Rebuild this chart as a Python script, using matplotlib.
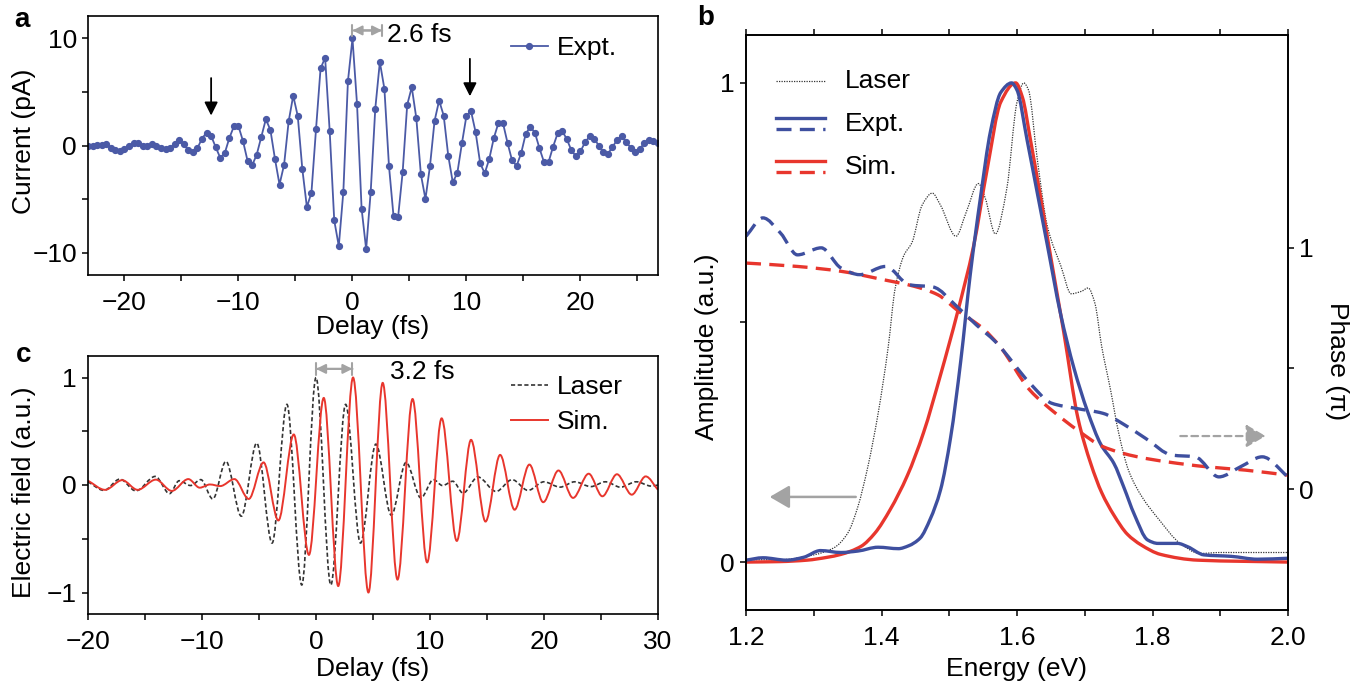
import numpy as np
import matplotlib
matplotlib.use("Agg")
import matplotlib.pyplot as plt
from matplotlib.path import Path
from matplotlib.patches import PathPatch
from matplotlib.lines import Line2D
from matplotlib.ticker import MultipleLocator, FixedLocator, FormatStrFormatter

plt.rcParams["font.family"] = ["Liberation Sans", "DejaVu Sans"]
plt.rcParams["font.size"] = 19
plt.rcParams["axes.linewidth"] = 1.2
for ax_name in ("xtick", "ytick"):
    plt.rcParams[ax_name + ".direction"] = "out"
    plt.rcParams[ax_name + ".major.size"] = 4.5
    plt.rcParams[ax_name + ".minor.size"] = 4.5
    plt.rcParams[ax_name + ".major.width"] = 1.1
    plt.rcParams[ax_name + ".minor.width"] = 1.1
plt.rcParams["xtick.major.pad"] = 7
plt.rcParams["ytick.major.pad"] = 3.5

# ---- panel a : measured current, one point every 0.4 fs from -23.2 fs
delay_a_start = -23.2
delay_a_step = 0.4
current_a = [
    0.0, -0.05, 0.05, 0.05, 0.1, -0.2, -0.45, -0.55, -0.35, 0.0,
    0.2, 0.2, 0.0, -0.05, 0.1, -0.05, -0.2, -0.35, -0.2, 0.1,
    0.5, 0.1, -0.4, -0.6, -0.25, 0.65, 1.2, 0.9, -0.15, -1.15,
    -0.7, 0.7, 1.8, 1.8, 0.4, -1.45, -1.85, -0.85, 0.8, 2.45,
    1.45, -1.25, -3.65, -1.8, 2.25, 4.65, 2.75, -2.2, -5.75, -4.4,
    1.5, 7.2, 8.2, 1.35, -7.0, -9.4, -4.3, 6.0, 10.0, 3.85,
    -5.9, -9.7, -4.3, 3.45, 7.8, 5.3, -1.9, -6.6, -6.7, -2.5,
    3.8, 5.45, 2.55, -2.7, -5.0, -1.9, 2.3, 4.2, 2.8, -0.95,
    -3.45, -2.55, 0.2, 2.8, 3.2, 1.25, -1.65, -2.6, -1.25, 0.7,
    2.1, 2.1, 0.25, -1.4, -1.9, -0.7, 1.1, 1.75, 1.2, -0.25,
    -1.55, -1.55, -0.1, 1.15, 1.35, 0.6, -0.45, -1.0, -0.55, 0.3,
    0.85, 0.65, 0.0, -0.6, -0.8, -0.15, 0.5, 0.85, 0.35, -0.2,
    -0.6, -0.3, 0.2, 0.55, 0.45, 0.2,
]
delay_a = delay_a_start + delay_a_step * np.arange(len(current_a))

# ---- panel c : electric field, turning points of each trace
laser_t = [-20.0, -18.6, -17.2, -15.8, -14.1, -12.85, -12.0, -11.0, -10.1, -9.05,
           -7.9, -6.55, -5.2, -3.85, -2.55, -1.25, 0.0, 1.3, 2.6, 3.9,
           5.25, 6.6, 7.9, 9.2, 10.3, 11.1, 12.0, 12.9, 14.2, 15.8,
           17.2, 18.6, 20.0, 21.4, 22.7, 24.1, 25.4, 26.7, 28.1, 29.4, 30.0]
laser_e = [0.03, -0.05, 0.055, -0.055, 0.08, -0.08, 0.04, -0.005, 0.05, -0.13,
           0.22, -0.29, 0.39, -0.54, 0.75, -0.93, 1.0, -0.93, 0.75, -0.54,
           0.38, -0.28, 0.21, -0.12, 0.05, -0.005, 0.035, -0.075, 0.075, -0.06,
           0.05, -0.05, 0.03, -0.02, 0.03, -0.015, 0.03, -0.02, 0.03, -0.01, 0.0]
sim_t = [-20.0, -18.5, -17.0, -15.65, -14.05, -12.65, -11.2, -10.2, -9.3, -8.4,
         -7.15, -5.9, -4.6, -3.3, -1.95, -0.62, 0.68, 1.95, 3.25, 4.6,
         5.85, 7.15, 8.47, 9.75, 11.02, 12.35, 13.6, 14.87, 16.15, 17.42,
         18.72, 19.93, 21.27, 22.55, 23.92, 25.12, 26.4, 27.7, 28.92, 30.0]
sim_e = [0.04, -0.045, 0.045, -0.045, 0.05, -0.055, 0.055, -0.025, 0.005, -0.01,
         0.055, -0.13, 0.21, -0.33, 0.47, -0.65, 0.81, -0.94, 1.0, -1.0,
         0.95, -0.88, 0.8, -0.72, 0.62, -0.52, 0.42, -0.34, 0.28, -0.23,
         0.19, -0.16, 0.135, -0.12, 0.105, -0.105, 0.1, -0.09, 0.08, -0.045]

# ---- panel b : spectral amplitude and phase
laser_E = [1.20, 1.25, 1.30, 1.33, 1.35, 1.365, 1.38, 1.395, 1.41, 1.42,
           1.433, 1.445, 1.46, 1.475, 1.487, 1.51, 1.525, 1.543, 1.553, 1.568,
           1.585, 1.60, 1.61, 1.617, 1.63, 1.645, 1.665, 1.68, 1.695, 1.705,
           1.715, 1.725, 1.738, 1.75, 1.765, 1.785, 1.81, 1.84, 1.87, 1.90, 2.0]
laser_A = [0.005, 0.005, 0.015, 0.03, 0.06, 0.115, 0.2, 0.31, 0.45, 0.57,
           0.64, 0.667, 0.745, 0.77, 0.745, 0.68, 0.73, 0.79, 0.76, 0.685,
           0.78, 0.96, 1.0, 0.985, 0.84, 0.70, 0.617, 0.56, 0.565, 0.572,
           0.54, 0.45, 0.36, 0.27, 0.19, 0.135, 0.088, 0.04, 0.018, 0.02, 0.02]
expt_E = [1.20, 1.225, 1.26, 1.285, 1.31, 1.34, 1.365, 1.395, 1.425, 1.44,
          1.457, 1.472, 1.487, 1.502, 1.517, 1.531, 1.546, 1.561, 1.576, 1.592,
          1.60, 1.615, 1.63, 1.645, 1.664, 1.684, 1.704, 1.724, 1.743, 1.758,
          1.773, 1.793, 1.808, 1.837, 1.852, 1.876, 1.916, 1.955, 2.0]
expt_A = [0.004, 0.009, 0.004, 0.01, 0.024, 0.02, 0.023, 0.031, 0.028, 0.034,
          0.05, 0.09, 0.15, 0.26, 0.42, 0.6, 0.76, 0.9, 0.98, 1.0,
          0.985, 0.88, 0.77, 0.66, 0.52, 0.405, 0.315, 0.245, 0.206, 0.155,
          0.10, 0.046, 0.039, 0.039, 0.032, 0.015, 0.012, 0.006, 0.008]
sim_E = [1.20, 1.25, 1.29, 1.32, 1.34, 1.37, 1.39, 1.413, 1.438, 1.462,
         1.487, 1.512, 1.536, 1.556, 1.576, 1.598, 1.608, 1.62, 1.635, 1.65,
         1.669, 1.69, 1.709, 1.725, 1.743, 1.763, 1.783, 1.812, 1.867, 2.0]
sim_A = [0.0, 0.001, 0.004, 0.01, 0.016, 0.033, 0.06, 0.11, 0.18, 0.27,
         0.39, 0.52, 0.66, 0.82, 0.96, 1.0, 0.97, 0.88, 0.76, 0.635,
         0.48, 0.30, 0.205, 0.145, 0.098, 0.058, 0.036, 0.016, 0.004, 0.0]
phase_expt_E = [1.20, 1.225, 1.251, 1.276, 1.311, 1.34, 1.368, 1.406, 1.441, 1.476,
                1.511, 1.54, 1.568, 1.619, 1.651, 1.686, 1.727, 1.759, 1.79, 1.829,
                1.863, 1.898, 1.93, 1.962, 2.0]
phase_expt = [1.047, 1.123, 1.06, 0.97, 0.999, 0.916, 0.888, 0.922, 0.846, 0.837,
              0.757, 0.68, 0.611, 0.439, 0.356, 0.335, 0.314, 0.266, 0.21, 0.141,
              0.134, 0.051, 0.093, 0.134, 0.051]
phase_sim_E = [1.20, 1.276, 1.34, 1.403, 1.448, 1.483, 1.514, 1.549, 1.575, 1.619,
               1.657, 1.689, 1.727, 1.778, 1.822, 1.879, 1.937, 2.0]
phase_sim = [0.936, 0.922, 0.902, 0.867, 0.84, 0.805, 0.736, 0.667, 0.59, 0.41,
             0.314, 0.245, 0.176, 0.134, 0.113, 0.093, 0.079, 0.058]

blue_a = "#4b5aa6"
blue = "#3e4f9f"
red = "#e8362d"
grey = "#a3a3a3"
dark = "#333333"


def smooth_path(x, y):
    """Bezier path through the points (monotone cubic tangents)."""
    x = np.asarray(x, float)
    y = np.asarray(y, float)
    h = np.diff(x)
    d = np.diff(y) / h
    m = np.zeros_like(x)
    m[0], m[-1] = d[0], d[-1]
    for i in range(1, len(x) - 1):
        if d[i - 1] * d[i] > 0:
            w1 = 2 * h[i] + h[i - 1]
            w2 = h[i] + 2 * h[i - 1]
            m[i] = (w1 + w2) / (w1 / d[i - 1] + w2 / d[i])
    verts = [(x[0], y[0])]
    codes = [Path.MOVETO]
    for i in range(len(x) - 1):
        verts += [(x[i] + h[i] / 3, y[i] + m[i] * h[i] / 3),
                  (x[i + 1] - h[i] / 3, y[i + 1] - m[i + 1] * h[i] / 3),
                  (x[i + 1], y[i + 1])]
        codes += [Path.CURVE4] * 3
    return Path(verts, codes)


def draw_curve(ax, x, y, **kw):
    ax.add_patch(PathPatch(smooth_path(x, y), fill=False, capstyle="butt", **kw))


def place_ylabel(ax, x, y, rotation=90):
    lab = ax.yaxis.label
    lab.set(rotation=rotation, va="center", ha="center", rotation_mode="anchor")
    ax.yaxis.set_label_coords(x, y)


fig = plt.figure(figsize=(13.57, 6.91), dpi=100)
W, H = 1357, 691
ax_a = fig.add_axes([88 / W, 1 - 275 / H, 570 / W, 259 / H])
ax_c = fig.add_axes([88 / W, 1 - 614 / H, 570 / W, 258 / H])
ax_b = fig.add_axes([746 / W, 1 - 610 / H, 542 / W, 575 / H])
ax_p = ax_b.twinx()

# ---------------- a
ax_a.plot(delay_a, current_a, "-o", color=blue_a, lw=1.3, ms=4.2, label="Expt.")
ax_a.set_xlim(-23.2, 26.8)
ax_a.set_ylim(-12.1, 12.1)
ax_a.xaxis.set_major_locator(MultipleLocator(10))
ax_a.xaxis.set_minor_locator(MultipleLocator(5))
ax_a.yaxis.set_major_locator(MultipleLocator(10))
ax_a.yaxis.set_minor_locator(MultipleLocator(5))
ax_a.set_xlabel("Delay (fs)", labelpad=0)
ax_a.set_ylabel("Current (pA)")
place_ylabel(ax_a, (24 - 88) / 570, 0.517)
ax_a.legend(loc="center left", bbox_to_anchor=(0.742, 0.876), frameon=False,
            borderpad=0, borderaxespad=0, handlelength=1.4, handletextpad=0.35)
for xa, y0, y1 in [(-12.4, 6.3, 2.8), (10.3, 8.1, 4.6)]:
    ax_a.annotate("", xy=(xa, y1), xytext=(xa, y0),
                  arrowprops=dict(arrowstyle="-|>,head_length=0.5,head_width=0.25",
                                  color="k", lw=1.3, mutation_scale=16,
                                  shrinkA=0, shrinkB=0))
for style in ("<|-|>,head_length=0.4,head_width=0.2", "|-|,widthA=0.3,widthB=0.3"):
    ax_a.annotate("", xy=(0, 10.75), xytext=(2.6, 10.75),
                  arrowprops=dict(arrowstyle=style, color=grey, lw=1.5,
                                  mutation_scale=14, shrinkA=0, shrinkB=0))
ax_a.text(3.0, 10.3, "2.6 fs", va="center", ha="left")

# ---------------- c
draw_curve(ax_c, laser_t, laser_e, edgecolor=dark, lw=1.2, linestyle=(0, (2.5, 1.5)))
draw_curve(ax_c, sim_t, sim_e, edgecolor=red, lw=1.4)
ax_c.set_xlim(-20, 30)
ax_c.set_ylim(-1.2, 1.2)
ax_c.xaxis.set_major_locator(MultipleLocator(10))
ax_c.xaxis.set_minor_locator(MultipleLocator(5))
ax_c.yaxis.set_major_locator(MultipleLocator(1))
ax_c.yaxis.set_minor_locator(MultipleLocator(0.5))
ax_c.set_xlabel("Delay (fs)", labelpad=2)
ax_c.set_ylabel("Electric field (a.u.)")
place_ylabel(ax_c, (24 - 88) / 570, 0.47)
handles_c = [Line2D([], [], color=dark, lw=1.2, ls=(0, (2.5, 1.5))),
             Line2D([], [], color=red, lw=1.4)]
ax_c.legend(handles_c, ["Laser", "Sim."], loc="upper left", bbox_to_anchor=(0.742, 0.925),
            frameon=False, borderpad=0, borderaxespad=0, handlelength=1.4,
            handletextpad=0.35, labelspacing=0.42)
for style in ("<|-|>,head_length=0.4,head_width=0.2", "|-|,widthA=0.3,widthB=0.3"):
    ax_c.annotate("", xy=(0, 1.08), xytext=(3.2, 1.08),
                  arrowprops=dict(arrowstyle=style, color=grey, lw=1.5,
                                  mutation_scale=14, shrinkA=0, shrinkB=0))
ax_c.text(6.5, 1.05, "3.2 fs", va="center", ha="left")

# ---------------- b
dash_b = (0, (4.5, 2.5))
draw_curve(ax_b, laser_E, laser_A, edgecolor=dark, lw=0.9, linestyle=(0, (1, 1)))
draw_curve(ax_b, sim_E, sim_A, edgecolor=red, lw=2.4)
draw_curve(ax_b, expt_E, expt_A, edgecolor=blue, lw=2.4)
draw_curve(ax_p, phase_sim_E, phase_sim, edgecolor=red, lw=2.4, linestyle=dash_b)
draw_curve(ax_p, phase_expt_E, phase_expt, edgecolor=blue, lw=2.4, linestyle=dash_b)

ax_b.set_xlim(1.2, 2.0)
ax_b.set_ylim(-0.1, 1.1)
ax_p.set_ylim(-0.5, 1.88)
ax_b.xaxis.set_major_locator(MultipleLocator(0.2))
ax_b.xaxis.set_minor_locator(MultipleLocator(0.1))
ax_b.xaxis.set_major_formatter(FormatStrFormatter("%.1f"))
ax_b.yaxis.set_major_locator(FixedLocator([0, 1]))
ax_b.yaxis.set_minor_locator(FixedLocator([0.5]))
ax_p.yaxis.set_major_locator(FixedLocator([0, 1]))
ax_p.yaxis.set_minor_locator(FixedLocator([0.5]))
ax_b.tick_params(axis="x", which="both", top=True)
ax_b.set_xlabel("Energy (eV)", labelpad=5)
ax_b.set_ylabel("Amplitude (a.u.)")
place_ylabel(ax_b, (707 - 746) / 542, 0.457)
ax_p.set_ylabel("Phase (π)")
place_ylabel(ax_p, (1337 - 746) / 542, 0.433, rotation=270)

tr = ax_b.transAxes
ax_b.plot([0.055, 0.146], [0.92, 0.92], transform=tr, color=dark, lw=0.9, ls=(0, (1, 1)))
ax_b.plot([0.055, 0.146], [0.856, 0.856], transform=tr, color=blue, lw=2.4)
ax_b.plot([0.055, 0.146], [0.836, 0.836], transform=tr, color=blue, lw=2.4, ls=dash_b)
ax_b.plot([0.055, 0.146], [0.781, 0.781], transform=tr, color=red, lw=2.4)
ax_b.plot([0.055, 0.146], [0.761, 0.761], transform=tr, color=red, lw=2.4, ls=dash_b)
ax_b.text(0.182, 0.92, "Laser", transform=tr, va="center")
ax_b.text(0.182, 0.846, "Expt.", transform=tr, va="center")
ax_b.text(0.182, 0.771, "Sim.", transform=tr, va="center")

ax_b.annotate("", xy=(1.235, 0.136), xytext=(1.362, 0.136),
              arrowprops=dict(arrowstyle="-|>,head_length=0.6,head_width=0.35",
                              color=grey, lw=1.8, mutation_scale=20, shrinkA=0, shrinkB=0))
ax_p.annotate("", xy=(1.967, 0.22), xytext=(1.841, 0.22),
              arrowprops=dict(arrowstyle="-|>,head_length=0.6,head_width=0.35",
                              color=grey, lw=1.6, ls=(0, (3, 2)), mutation_scale=20,
                              shrinkA=0, shrinkB=0))

# panel letters
for x_px, y_px, letter in [(22, 20, "a"), (24, 355, "c"), (706, 18, "b")]:
    fig.text(x_px / W, 1 - y_px / H, letter, fontsize=20, weight="bold",
             va="center", ha="center")

fig.savefig("out.png", dpi=100)
